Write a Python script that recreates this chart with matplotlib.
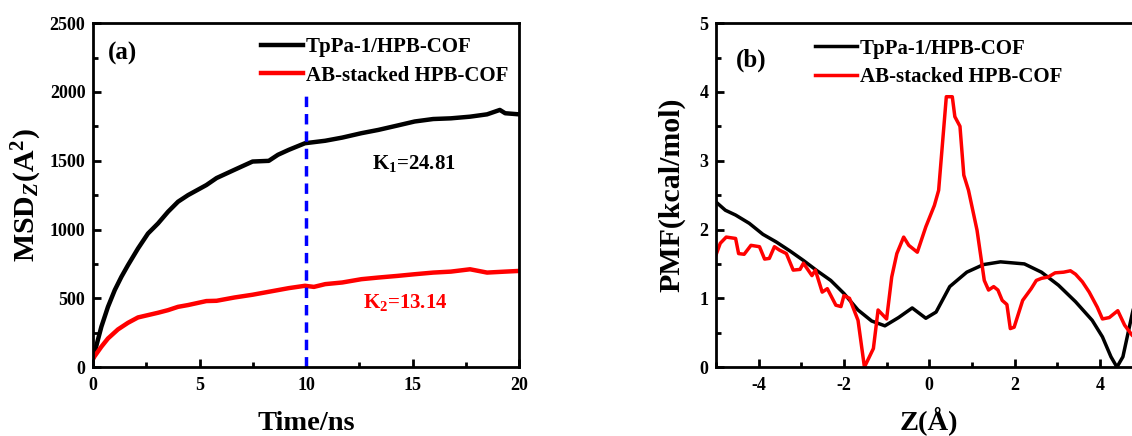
import matplotlib
matplotlib.use('Agg')
import matplotlib.pyplot as plt
from matplotlib.ticker import MultipleLocator

plt.rcParams['font.family'] = ['Liberation Serif', 'DejaVu Serif']
plt.rcParams['font.weight'] = 'bold'
plt.rcParams['axes.unicode_minus'] = False
plt.rcParams['mathtext.fontset'] = 'custom'
plt.rcParams['mathtext.rm'] = 'Liberation Serif:bold'
plt.rcParams['mathtext.it'] = 'Liberation Serif:italic:bold'
plt.rcParams['mathtext.bf'] = 'Liberation Serif:bold'

# (a) MSD vs time
t_black = [0, 0.08, 0.39, 0.70, 1.02, 1.33, 1.64, 2.11, 2.58, 3.05, 3.52, 3.99, 4.46, 5.32,
           5.8, 6.64, 7.49, 8.25, 8.68, 9.19, 9.95, 10.9, 11.7, 12.6, 13.4, 14.3, 15.1,
           15.97, 16.8, 17.7, 18.5, 19.1, 19.35, 20]
msd_black = [60, 111, 293, 438, 560, 656, 741, 862, 971, 1044, 1129, 1202, 1250, 1323,
             1374, 1434, 1494, 1499, 1543, 1579, 1627, 1645, 1668, 1700, 1724, 1756, 1785,
             1803, 1808, 1820, 1837, 1869, 1845, 1837]
t_red = [0, 0.39, 0.70, 1.17, 1.64, 2.11, 2.58, 3.05, 3.52, 3.99, 4.46, 5.32, 5.8, 6.64,
         7.49, 8.34, 9.19, 9.95, 10.37, 10.9, 11.7, 12.6, 13.4, 14.3, 15.1, 15.97, 16.8,
         17.7, 18.5, 19.35, 20]
msd_red = [63, 148, 208, 274, 322, 361, 378, 395, 414, 438, 451, 480, 482, 506,
           526, 550, 574, 591, 583, 603, 615, 639, 651, 663, 675, 687, 694,
           711, 687, 694, 699]

# (b) PMF vs Z
z_black = [-5.0, -4.78, -4.54, -4.22, -3.9, -3.59, -3.27, -2.95, -2.63, -2.31, -2.0, -1.67,
           -1.35, -1.04, -0.72, -0.40, -0.08, 0.16, 0.48, 0.88, 1.27, 1.67, 2.23, 2.63,
           3.03, 3.43, 3.82, 4.06, 4.26, 4.40, 4.54, 4.76, 5.0]
pmf_black = [2.40, 2.28, 2.21, 2.09, 1.93, 1.82, 1.69, 1.55, 1.40, 1.26, 1.07, 0.83,
             0.67, 0.60, 0.72, 0.86, 0.71, 0.80, 1.17, 1.38, 1.49, 1.53, 1.50, 1.38,
             1.19, 0.95, 0.68, 0.44, 0.15, 0.0, 0.15, 0.78, 1.40]
z_red = [-5.0, -4.9, -4.76, -4.54, -4.47, -4.34, -4.18, -3.98, -3.86, -3.75, -3.63, -3.51,
         -3.35, -3.19, -3.03, -2.95, -2.75, -2.67, -2.51, -2.39, -2.19, -2.07, -2.0, -1.87,
         -1.67, -1.52, -1.31, -1.2, -1.0, -0.88, -0.76, -0.6, -0.48, -0.28, -0.08, 0.12,
         0.22, 0.40, 0.54, 0.6, 0.72, 0.81, 0.92, 1.12, 1.29, 1.39, 1.51, 1.61, 1.71, 1.82,
         1.90, 1.99, 2.19, 2.39, 2.51, 2.63, 2.79, 2.95, 3.15, 3.31, 3.43, 3.59, 3.75, 3.94,
         4.06, 4.22, 4.42, 4.58, 4.76, 5.0]
pmf_red = [1.63, 1.80, 1.89, 1.87, 1.65, 1.64, 1.77, 1.75, 1.57, 1.58, 1.75, 1.70,
           1.65, 1.41, 1.42, 1.51, 1.33, 1.41, 1.09, 1.14, 0.90, 0.88, 1.04, 1.00,
           0.68, 0.0, 0.27, 0.83, 0.70, 1.31, 1.65, 1.89, 1.77, 1.67, 2.04, 2.35,
           2.57, 3.93, 3.93, 3.64, 3.50, 2.79, 2.57, 1.99, 1.26, 1.12, 1.17, 1.12, 0.97, 0.91,
           0.56, 0.58, 0.97, 1.14, 1.26, 1.29, 1.31, 1.37, 1.38, 1.40, 1.35, 1.24, 1.09, 0.87,
           0.70, 0.72, 0.82, 0.61, 0.46, 0.35]

labels = ['TpPa-1/HPB-COF', 'AB-stacked HPB-COF']

fig = plt.figure(figsize=(11.32, 4.36), dpi=100)
ax1 = fig.add_axes([0.0822, 0.158, 0.3763, 0.789])
ax2 = fig.add_axes([0.6325, 0.158, 0.3768, 0.789])


def style(ax):
    for s in ax.spines.values():
        s.set_linewidth(2.0)
    ax.tick_params(which='both', direction='in', width=2, labelsize=13)
    ax.tick_params(axis='x', pad=7)
    ax.tick_params(axis='y', pad=5.5)
    ax.tick_params(which='major', length=6)
    ax.tick_params(which='minor', length=3.5)
    for lab in ax.get_xticklabels() + ax.get_yticklabels():
        lab.set_fontweight('bold')


ax1.plot(t_black, msd_black, color='black', lw=3.2, label=labels[0])
ax1.plot(t_red, msd_red, color='red', lw=3.2, label=labels[1])
ax1.vlines(10, 0, 2000, colors='blue', linestyles=(0, (3, 2)), lw=2.5)
ax1.set_xlim(0, 20)
ax1.set_ylim(0, 2500)
ax1.xaxis.set_major_locator(MultipleLocator(5))
ax1.xaxis.set_minor_locator(MultipleLocator(2.5))
ax1.yaxis.set_major_locator(MultipleLocator(500))
ax1.yaxis.set_minor_locator(MultipleLocator(250))
style(ax1)
ax1.set_xlabel('Time/ns', fontsize=20.5, fontweight='bold', labelpad=12)
ax1.set_ylabel(r'MSD$_Z$(A$^2$)', fontsize=21.5, fontweight='bold', labelpad=4)
ax1.text(0.035, 0.912, '(a)', transform=ax1.transAxes, fontsize=18, fontweight='bold',
         ha='left', va='center')
ax1.text(15.07, 1483, r'K$_1$=24.81', fontsize=15, fontweight='bold', ha='center', va='center')
ax1.text(14.65, 472, r'K$_2$=13.14', fontsize=15, fontweight='bold', color='red',
         ha='center', va='center')
ax1.legend(loc='upper left', bbox_to_anchor=(0.395, 0.96), frameon=False,
           handlelength=2.0, handletextpad=0.15, borderpad=0, borderaxespad=0,
           labelspacing=0.42, prop={'weight': 'bold', 'size': 15})

ax2.plot(z_black, pmf_black, color='black', lw=2.5, label=labels[0])
ax2.plot(z_red, pmf_red, color='red', lw=2.5, label=labels[1])
ax2.set_xlim(-5, 5)
ax2.set_ylim(0, 5)
ax2.xaxis.set_major_locator(MultipleLocator(2))
ax2.xaxis.set_minor_locator(MultipleLocator(1))
ax2.yaxis.set_major_locator(MultipleLocator(1))
ax2.yaxis.set_minor_locator(MultipleLocator(0.5))
style(ax2)
ax2.set_xlabel('Z(Å)', fontsize=20.5, fontweight='bold', labelpad=9)
ax2.set_ylabel('PMF(kcal/mol)', fontsize=21.5, fontweight='bold', labelpad=10)
ax2.text(0.047, 0.892, '(b)', transform=ax2.transAxes, fontsize=18, fontweight='bold',
         ha='left', va='center')
ax2.legend(loc='upper left', bbox_to_anchor=(0.232, 0.955), frameon=False,
           handlelength=2.0, handletextpad=0.15, borderpad=0, borderaxespad=0,
           labelspacing=0.42, prop={'weight': 'bold', 'size': 15})

fig.savefig('out.png', dpi=100)
